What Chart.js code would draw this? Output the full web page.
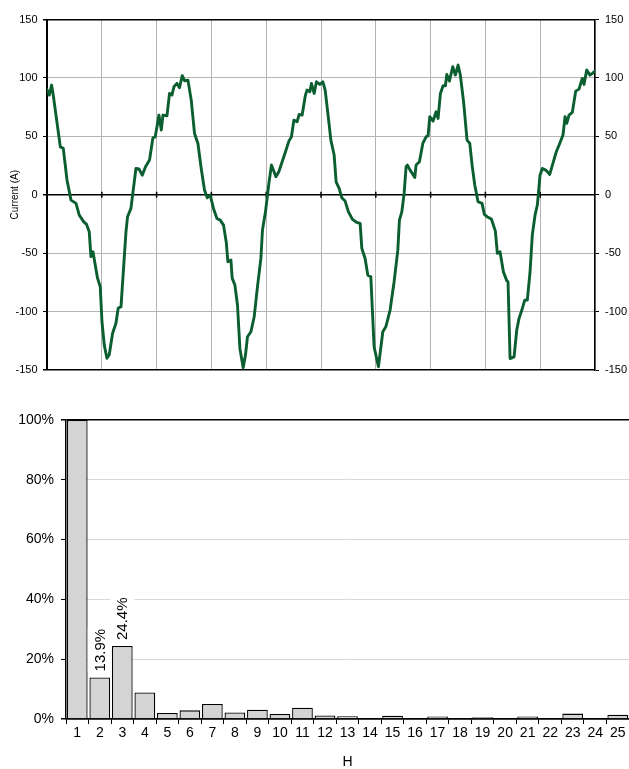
<!DOCTYPE html>
<html><head><meta charset="utf-8">
<script src="https://cdn.jsdelivr.net/npm/chart.js@4.4.1/dist/chart.umd.min.js"></script>
<style>
html,body{margin:0;padding:0;background:#fff;}
#w1{position:absolute;left:0;top:0;width:629px;height:385px;}
#w2{position:absolute;left:0;top:380px;width:629px;height:389px;}
</style></head><body>
<div id="w1"><canvas id="c1"></canvas></div>
<div id="w2"><canvas id="c2"></canvas></div>
<script>
// ---- Waveform data (time in % of window, current in A) ----
const timeIdx = [0,0.42,0.84,1.15,2.43,2.97,3.65,4.38,5.29,5.89,6.68,7.22,7.71,8.02,8.39,9.23,9.72,10.03,10.45,10.94,11.36,11.96,12.58,13.0,13.5,14.41,14.7,15.32,16.23,16.78,17.38,17.98,18.71,19.33,19.75,20.43,20.85,21.16,21.89,22.36,22.8,23.16,23.71,24.18,24.68,25.1,25.72,26.32,26.92,27.54,28.14,28.74,29.24,29.78,30.38,31.01,31.61,32.21,32.7,33.01,33.56,33.8,34.29,34.76,35.2,35.8,36.22,36.59,37.21,37.81,38.41,39.03,39.32,39.87,40.49,40.96,41.77,42.31,42.91,43.52,44.14,44.61,45.05,45.65,46.02,46.56,47.16,47.47,47.97,48.26,48.75,49.17,49.79,50.34,50.76,51.36,51.8,52.4,52.76,53.31,53.8,54.4,55.01,55.74,56.54,57.14,57.45,58.05,58.54,59.09,59.69,60.48,61.28,61.83,62.61,63.34,64.02,64.31,64.75,65.17,65.53,65.77,66.26,66.86,67.12,67.35,67.96,68.58,69.18,69.54,69.85,70.45,71.0,71.37,71.79,72.28,72.7,72.96,73.43,74.05,74.52,75.02,75.43,76.05,76.65,77.15,77.57,78.06,78.66,79.39,79.81,80.3,81.09,81.82,82.18,82.67,83.28,83.9,84.13,84.5,85.23,85.72,86.14,86.74,87.18,87.65,88.15,88.56,89.06,89.48,89.97,90.39,91.01,91.74,92.4,92.94,93.56,94.16,94.53,94.84,95.26,95.86,96.48,97.08,97.68,97.99,98.49,99.09,99.51,100];
const currentA = [90,85.3,93.9,85,41,39.7,12.6,-4.6,-7.4,-17.4,-23,-25.4,-31.7,-53,-48.8,-71.6,-78.7,-108.7,-128.7,-140,-137,-118.7,-110,-97,-95.9,-31.7,-18.8,-11.7,22.5,22,16.8,24,29.7,48.8,49.6,68.2,55.3,68.2,67.6,86.7,85.3,92.4,95.3,91.6,101.9,97.6,98.1,81,52.5,43.9,22.5,4,-2.6,-0.3,-11.7,-20.3,-21.7,-26,-40.2,-57.3,-55.9,-71.6,-77.3,-94.4,-131.5,-148,-137,-121.5,-117.3,-104.4,-78.7,-54.5,-30.2,-14.6,9.7,25.4,15.4,19.7,28.2,36.8,45.9,49.6,63.9,62.5,68.8,68.2,85.3,89.6,88.2,95.3,86.7,96.7,94.4,96.7,89.6,65.3,46.8,34,11.1,5.4,-2.6,-5.4,-14.6,-21.1,-23.7,-24.5,-45.9,-54.5,-68.8,-70.2,-130.1,-147.2,-117.3,-113,-98.7,-74.5,-47.4,-21.7,-14.6,1.1,24,25.4,21.1,16.8,14.8,25.4,28.2,43.9,49.6,50.5,66.8,63.1,71,65.3,86.7,93.3,93.3,103,97.3,109.6,102.4,111,102.4,78.2,46.8,43.9,25.4,8.3,-6,-7.4,-16.8,-18.8,-20.8,-31.1,-50.2,-48.8,-66,-73.5,-74.5,-140.2,-138.7,-115.8,-105.8,-97.3,-90.2,-90.2,-65.9,-34.5,-17.4,-8.8,16.8,22.5,21.1,17.4,28.2,36.8,43.9,51.1,66.8,61.1,68.2,70.5,88.7,90.4,99.6,94.4,106.7,102.4,103.9,105.8];

// ---- Harmonic spectrum ----
const harmonics = ['1','2','3','4','5','6','7','8','9','10','11','12','13','14','15','16','17','18','19','20','21','22','23','24','25'];
const harmonicPct = [100,13.9,24.4,8.9,2.0,2.9,5.0,2.2,3.1,1.7,3.8,1.2,0.9,0.2,1.1,0.3,0.8,0.2,0.6,0.3,0.8,0.3,1.8,0.3,1.4];
const labelledHarmonics = ['2','3'];

const FONT = 'Liberation Sans';

const crossTicks = {
  id:'crossTicks',
  beforeDatasetsDraw(chart){
    const {ctx, scales:{x, y}} = chart;
    const y0 = y.getPixelForValue(0);
    ctx.save();
    ctx.strokeStyle = '#000'; ctx.lineWidth = 1.5;
    const ticks = x.ticks.map(t => t.value).filter(v => v > x.min && v < x.max);
    ticks.forEach(v => {
      const px = x.getPixelForValue(v);
      ctx.beginPath(); ctx.moveTo(px, y0 - 3); ctx.lineTo(px, y0 + 3); ctx.stroke();
    });
    ctx.restore();
  }
};

new Chart(document.getElementById('c1'), {
  type:'line',
  data:{datasets:[{
    data: timeIdx.map((t,i)=>({x:t, y:currentA[i]})),
    borderColor:'#0a5e2f', borderWidth:2.9, pointRadius:0, tension:0, fill:false,
    borderJoinStyle:'round', borderCapStyle:'round'
  }]},
  options:{
    animation:false, responsive:true, maintainAspectRatio:false,
    layout:{padding:{top:19.5, bottom:15, left:0, right:0}},
    plugins:{legend:{display:false}, tooltip:{enabled:false}},
    scales:{
      x:{type:'linear', min:0, max:100,
         ticks:{display:false, stepSize:10},
         grid:{color:'#b4b4b4', lineWidth:1, drawTicks:false},
         border:{display:false}},
      y:{position:'left', min:-150, max:150,
         ticks:{stepSize:50, font:{family:FONT, size:11}, color:'#000', padding:5.5},
         grid:{color:c => (c.tick && (c.tick.value===0 || Math.abs(c.tick.value)===150)) ? '#000' : '#b4b4b4',
               lineWidth:c => (c.tick && (c.tick.value===0 || Math.abs(c.tick.value)===150)) ? 1.5 : 1,
               tickLength:4, tickColor:'#000'},
         border:{color:'#000', width:2},
         title:{display:true, text:'Current (A)', font:{family:FONT, size:10}, color:'#000', padding:{top:9, bottom:0}},
         afterFit:s => { s.width = 47; }},
      y2:{position:'right', min:-150, max:150,
         ticks:{stepSize:50, font:{family:FONT, size:11}, color:'#000', padding:6},
         grid:{drawOnChartArea:false, tickLength:4, tickColor:'#000'},
         border:{color:'#000', width:1.5},
         afterFit:s => { s.width = 34; }}
    }
  },
  plugins:[crossTicks]
});

const valueLabels = {
  id:'valueLabels',
  afterDatasetsDraw(chart){
    const meta = chart.getDatasetMeta(0);
    const ctx = chart.ctx;
    ctx.save();
    ctx.font = '15px "' + FONT + '"';
    labelledHarmonics.forEach(h => {
      const i = harmonics.indexOf(h);
      const bar = meta.data[i];
      const txt = harmonicPct[i].toFixed(1) + '%';
      const w = ctx.measureText(txt).width;
      const yb = bar.y - 6;
      ctx.fillStyle = '#fff';
      ctx.fillRect(bar.x - 12, yb - w - 2, 24, w + 3);
      ctx.save();
      ctx.translate(bar.x, yb);
      ctx.rotate(-Math.PI/2);
      ctx.fillStyle = '#000';
      ctx.textAlign = 'left'; ctx.textBaseline = 'middle';
      ctx.fillText(txt, 0, 1);
      ctx.restore();
    });
    ctx.restore();
  }
};

new Chart(document.getElementById('c2'), {
  type:'bar',
  data:{labels:harmonics, datasets:[{
    data:harmonicPct, backgroundColor:'#d4d4d4', borderColor:'#000', borderWidth:1.3,
    barPercentage:0.92, categoryPercentage:1
  }]},
  options:{
    animation:false, responsive:true, maintainAspectRatio:false,
    layout:{padding:{top:40, right:0, left:0, bottom:0}},
    plugins:{legend:{display:false}, tooltip:{enabled:false}},
    scales:{
      x:{grid:{offset:true, drawOnChartArea:false, drawTicks:true, tickLength:5, tickColor:'#000', lineWidth:1},
         border:{color:'#000', width:1.5},
         ticks:{font:{family:FONT, size:14}, color:'#000', padding:1, maxRotation:0, autoSkip:false},
         title:{display:true, text:'H', font:{family:FONT, size:14, lineHeight:1}, color:'#000', padding:{top:0, bottom:0}},
         afterFit:s => { s.height = 50; }},
      y:{min:0, max:100,
         ticks:{stepSize:20, callback:v => v + '%', font:{family:FONT, size:14}, color:'#000', padding:7},
         grid:{color:c => (c.tick && (c.tick.value===0 || c.tick.value===100)) ? '#000' : '#d9d9d9',
               lineWidth:c => (c.tick && (c.tick.value===0 || c.tick.value===100)) ? 1.5 : 1,
               tickLength:5, tickColor:'#000'},
         border:{color:'#000', width:1.5},
         afterFit:s => { s.width = 66; }}
    }
  },
  plugins:[valueLabels]
});
</script>
</body></html>
